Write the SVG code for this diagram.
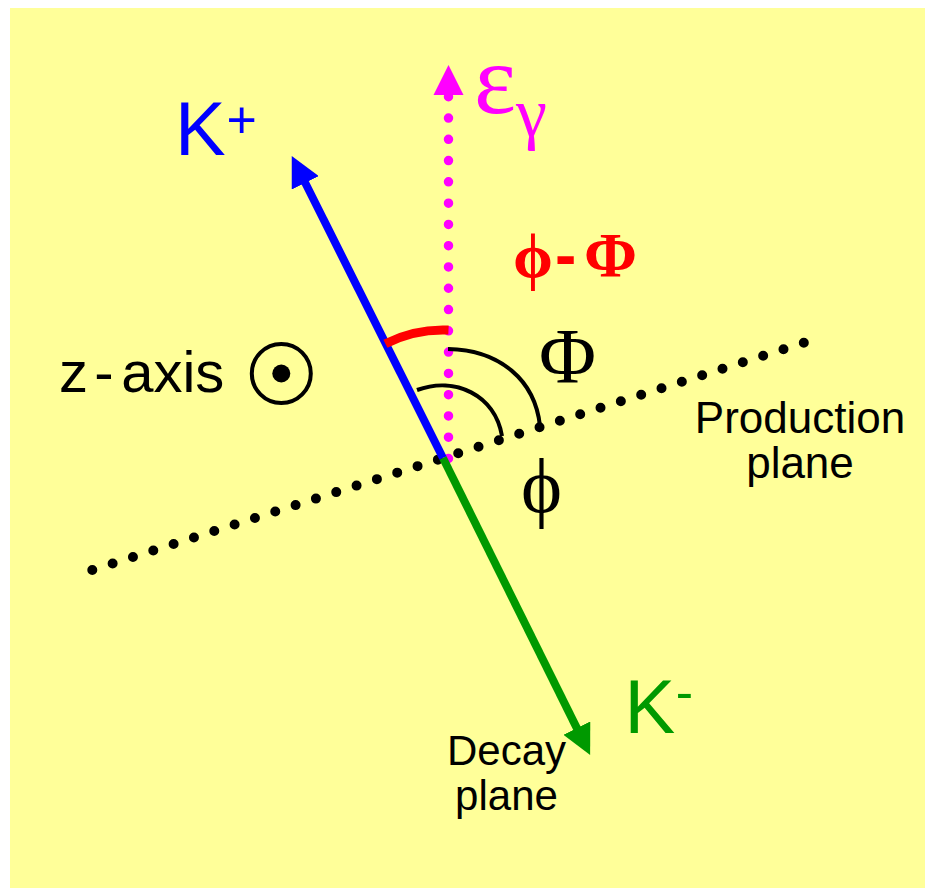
<svg xmlns="http://www.w3.org/2000/svg" width="925" height="892" viewBox="0 0 925 892">
<style>
.sans{font-family:"Liberation Sans",Arial,sans-serif}
.serif{font-family:"Liberation Serif","DejaVu Serif","Times New Roman",serif}
.dots{fill:none;stroke-linecap:round}
</style>
<defs>
<marker id="headB" viewBox="0 0 30 30" markerWidth="30" markerHeight="30" markerUnits="userSpaceOnUse" refX="2" refY="15" orient="auto"><path d="M0,0 L30,15 L0,30 z" fill="#0000FF"/></marker>
<marker id="headG" viewBox="0 0 30 30" markerWidth="30" markerHeight="30" markerUnits="userSpaceOnUse" refX="2" refY="15" orient="auto"><path d="M0,0 L30,15 L0,30 z" fill="#009900"/></marker>
</defs>
<rect x="10" y="8" width="915" height="880" fill="#FFFF99"/>
<g id="connectors">
<path id="production-plane" class="dots" d="M92.3,570 L804.5,342.6" stroke="#000" stroke-width="10" stroke-dasharray="0 21.34"/>
<path id="epsilon-axis" class="dots" d="M448.5,458.5 L448.5,96" stroke="#FF00FF" stroke-width="9.5" stroke-dasharray="0 21.28"/>
<path d="M448.5,65 L433.5,95 L463.5,95 z" fill="#FF00FF"/>
<path id="kplus" d="M443,458 L304.3,181" stroke="#0000FF" stroke-width="8" fill="none" marker-end="url(#headB)"/>
<path id="kminus" d="M443,458 L577.7,729.9" stroke="#009900" stroke-width="8" fill="none" marker-end="url(#headG)"/>
<path id="arc-diff" d="M385.4,343.7 A128,128 0 0 1 448.5,330.1" stroke="#FF0000" stroke-width="9" fill="none"/>
<path id="arc-phi" d="M417,390 C455,376 495,395 502,436" stroke="#000" stroke-width="4" fill="none"/>
<path id="arc-Phi" d="M448,349 C500,350 535,380 540,426" stroke="#000" stroke-width="4" fill="none"/>
</g>
<g id="label-kplus" class="sans" fill="#0000FF"><text x="175" y="155" font-size="76">K</text><text x="226.5" y="137.5" font-size="52">+</text></g>
<g id="label-kminus" class="sans" fill="#009900"><text x="624.5" y="733" font-size="76">K</text><text x="675.7" y="710" font-size="52">-</text></g>
<g id="label-epsilon" class="serif" fill="#FF00FF"><text x="474" y="113" font-size="100">ε</text><text x="516" y="136" font-size="70">γ</text></g>
<g id="label-diff" class="serif" fill="#FF0000" font-weight="bold" font-size="64"><text x="513" y="277">ϕ</text><text x="555" y="277" class="sans">-</text><text x="584" y="277">Φ</text></g>
<g id="label-Phi"><text class="serif" x="539" y="382" font-size="78">Φ</text></g>
<g id="label-phi"><text class="serif" x="521" y="512" font-size="78">ϕ</text></g>
<g id="zaxis">
<text class="sans" font-size="58" y="391.7"><tspan x="59">z</tspan><tspan x="94.2">-</tspan><tspan x="121.2">axis</tspan></text>
<circle cx="281.3" cy="373.5" r="29.5" fill="none" stroke="#000" stroke-width="4"/>
<circle cx="281.3" cy="373.5" r="9" fill="#000"/>
</g>
<g id="label-production" class="sans" font-size="44" text-anchor="middle"><text x="800" y="433">Production</text><text x="800" y="478">plane</text></g>
<g id="label-decay" class="sans" font-size="42" text-anchor="middle"><text x="506.5" y="765">Decay</text><text x="506.5" y="810">plane</text></g>
</svg>
